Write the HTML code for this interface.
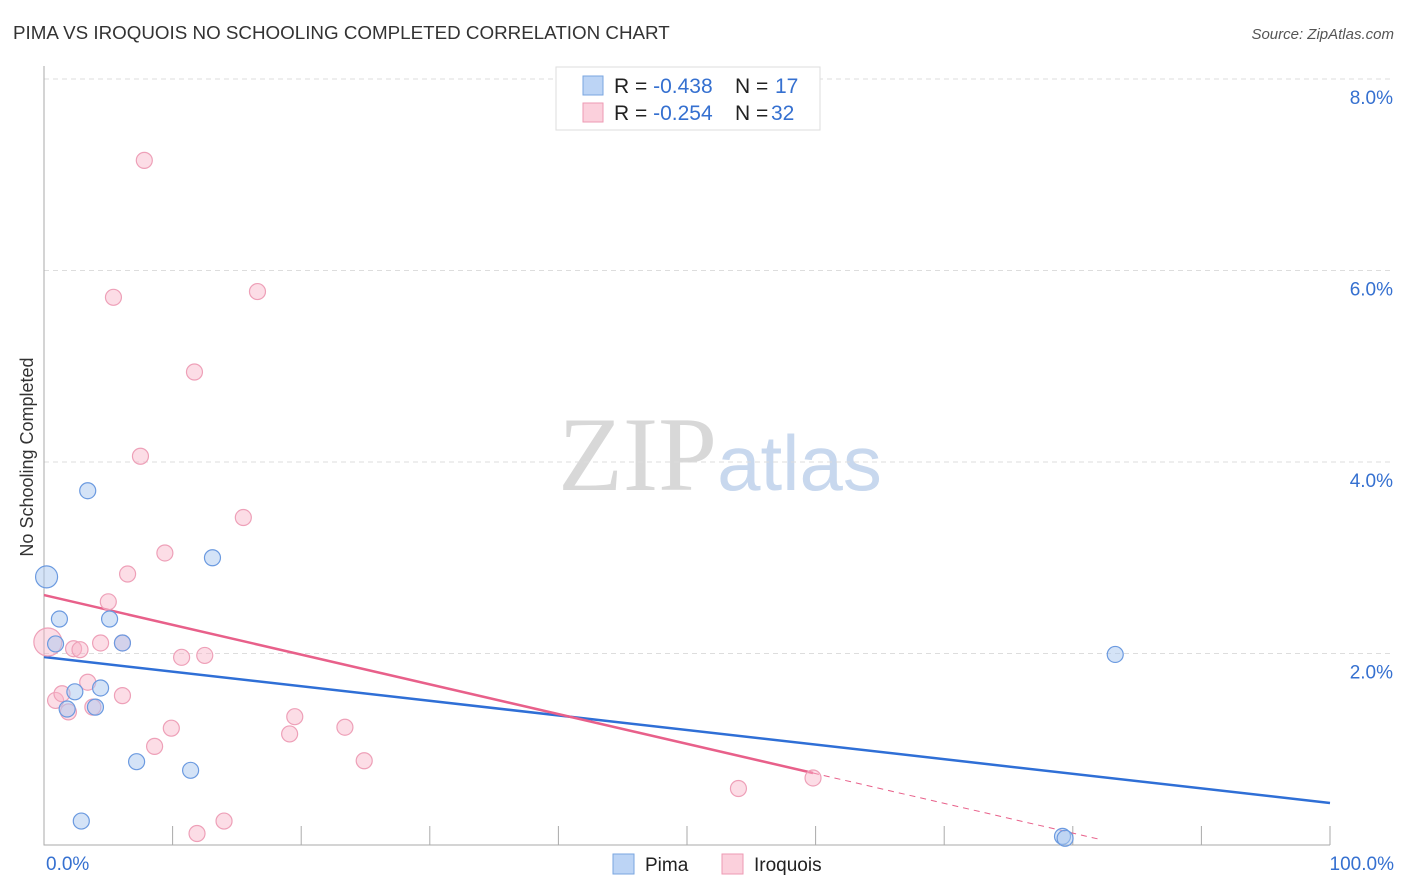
<!DOCTYPE html>
<html><head><meta charset="utf-8"><style>
body{margin:0;background:#fff;font-family:"Liberation Sans",sans-serif;}
svg{display:block}
</style></head><body>
<svg id="chart" width="1406" height="892" xmlns="http://www.w3.org/2000/svg">
<text x="13" y="39" font-size="18.8" fill="#333">PIMA VS IROQUOIS NO SCHOOLING COMPLETED CORRELATION CHART</text>
<text x="1394" y="39" font-size="15" fill="#555" text-anchor="end" font-style="italic">Source: ZipAtlas.com</text>
<text x="720" y="490" font-size="106" text-anchor="middle" font-family="Liberation Serif,serif"><tspan fill="#d8d8d8">ZIP</tspan><tspan fill="#c8d8ee" font-family="Liberation Sans,sans-serif" font-size="78">atlas</tspan></text>
<text transform="translate(33,457) rotate(-90)" font-size="18" fill="#333" text-anchor="middle">No Schooling Completed</text>
<g id="grid"></g><g id="axes"></g><g id="lines"></g><g id="pts"></g>
<g>
<rect x="556" y="67" width="264" height="63" fill="#fff" stroke="#ddd"/>
<rect x="583" y="76" width="20" height="19" fill="#bcd4f5" stroke="#7aa6e0"/>
<rect x="583" y="103" width="20" height="19" fill="#fbd0dc" stroke="#ee9ab3"/>
<text x="614" y="93" font-size="21" fill="#222">R = <tspan fill="#3570d0">-0.438</tspan><tspan x="735">N = </tspan><tspan x="775" fill="#3570d0">17</tspan></text>
<text x="614" y="120" font-size="21" fill="#222">R = <tspan fill="#3570d0">-0.254</tspan><tspan x="735">N = </tspan><tspan x="771" fill="#3570d0">32</tspan></text>
</g>
<g>
<rect x="613" y="854" width="21" height="20" fill="#bcd4f5" stroke="#7aa6e0"/>
<text x="645" y="871" font-size="19" fill="#222">Pima</text>
<rect x="722" y="854" width="21" height="20" fill="#fbd0dc" stroke="#ee9ab3"/>
<text x="754" y="871" font-size="19" fill="#222">Iroquois</text>
</g>
</svg>
<script>
const yTicks=[2,4,6,8];
const yTickLabels=["2.0%","4.0%","6.0%","8.0%"];
const xTickLabels=["0.0%","100.0%"];
const pimaX=[0.2,0.9,1.2,1.8,2.4,2.9,3.4,4.0,4.4,5.1,6.1,7.2,11.4,13.1,83.3,79.2,79.4];
const pimaY=[2.8,2.1,2.36,1.42,1.6,0.25,3.7,1.44,1.64,2.36,2.11,0.87,0.78,3.0,1.99,0.09,0.07];
const pimaR=[11,8,8,8,8,8,8,8,8,8,8,8,8,8,8,8,8];
const iroX=[0.3,0.9,1.4,1.9,2.3,2.8,3.4,3.8,4.4,5.0,5.4,6.1,6.1,6.5,7.5,7.8,8.6,9.4,9.9,10.7,11.7,11.9,12.5,14.0,15.5,16.6,19.1,19.5,23.4,24.9,54.0,59.8];
const iroY=[2.12,1.51,1.58,1.39,2.05,2.04,1.7,1.44,2.11,2.54,5.72,1.56,2.11,2.83,4.06,7.15,1.03,3.05,1.22,1.96,4.94,0.12,1.98,0.25,3.42,5.78,1.16,1.34,1.23,0.88,0.59,0.7];
const iroR=[14,8,8,8,8,8,8,8,8,8,8,8,8,8,8,8,8,8,8,8,8,8,8,8,8,8,8,8,8,8,8,8];
const pimaTrend=[1.963,0.439];
const iroTrend=[2.61,0.752,59.8,82.0];
const NS="http://www.w3.org/2000/svg";
const X=v=>44+v*12.86, Y=v=>845-v*95.75;
function mk(p,t,a){const e=document.createElementNS(NS,t);for(const k in a)e.setAttribute(k,a[k]);document.getElementById(p).appendChild(e);return e;}
yTicks.forEach((t,i)=>{
 const l=mk('grid','line',{x1:44,x2:1394,y1:Y(t),y2:Y(t),stroke:'#ddd','stroke-dasharray':'5,4'});
 
 
 const tx=mk('axes','text',{x:1393,y:Y(t)+25,'font-size':19,fill:'#3570d0','text-anchor':'end'});
 tx.textContent=yTickLabels[i];
 
 
});
const ax=mk('axes','path',{d:'M44,66V845H1330',stroke:'#aaa',fill:'none'});


for(let i=1;i<=10;i++){
 const t=mk('axes','line',{x1:X(i*10),x2:X(i*10),y1:826,y2:845,stroke:'#aaa'});
 
 
}
[[0,'start',46],[100,'end',1394]].forEach((d,i)=>{
 const t=mk('axes','text',{x:d[2],y:870,'font-size':19,fill:'#3570d0','text-anchor':d[1]});
 t.textContent=xTickLabels[i];
 
 
});
let l=mk('lines','line',{x1:X(0),y1:Y(pimaTrend[0]),x2:X(100),y2:Y(pimaTrend[1]),stroke:'#2f6fd6','stroke-width':2.5});


const slope=(iroTrend[1]-iroTrend[0])/iroTrend[2];
l=mk('lines','line',{x1:X(0),y1:Y(iroTrend[0]),x2:X(iroTrend[2]),y2:Y(iroTrend[1]),stroke:'#e8608a','stroke-width':2.5});


l=mk('lines','line',{x1:X(iroTrend[2]),y1:Y(iroTrend[1]),x2:X(iroTrend[3]),y2:Y(iroTrend[0]+slope*iroTrend[3]),stroke:'#e8608a','stroke-width':1,'stroke-dasharray':'6,5'});


iroX.forEach((v,i)=>{
 const c=mk('pts','circle',{cx:X(v),cy:Y(iroY[i]),r:iroR[i],fill:'rgba(248,180,200,0.45)',stroke:'#eea0b8','stroke-width':1.2});
 
 
});
pimaX.forEach((v,i)=>{
 const c=mk('pts','circle',{cx:X(v),cy:Y(pimaY[i]),r:pimaR[i],fill:'rgba(170,200,240,0.5)',stroke:'#6b9ae0','stroke-width':1.2});
 
 
});
</script>
</body></html>
